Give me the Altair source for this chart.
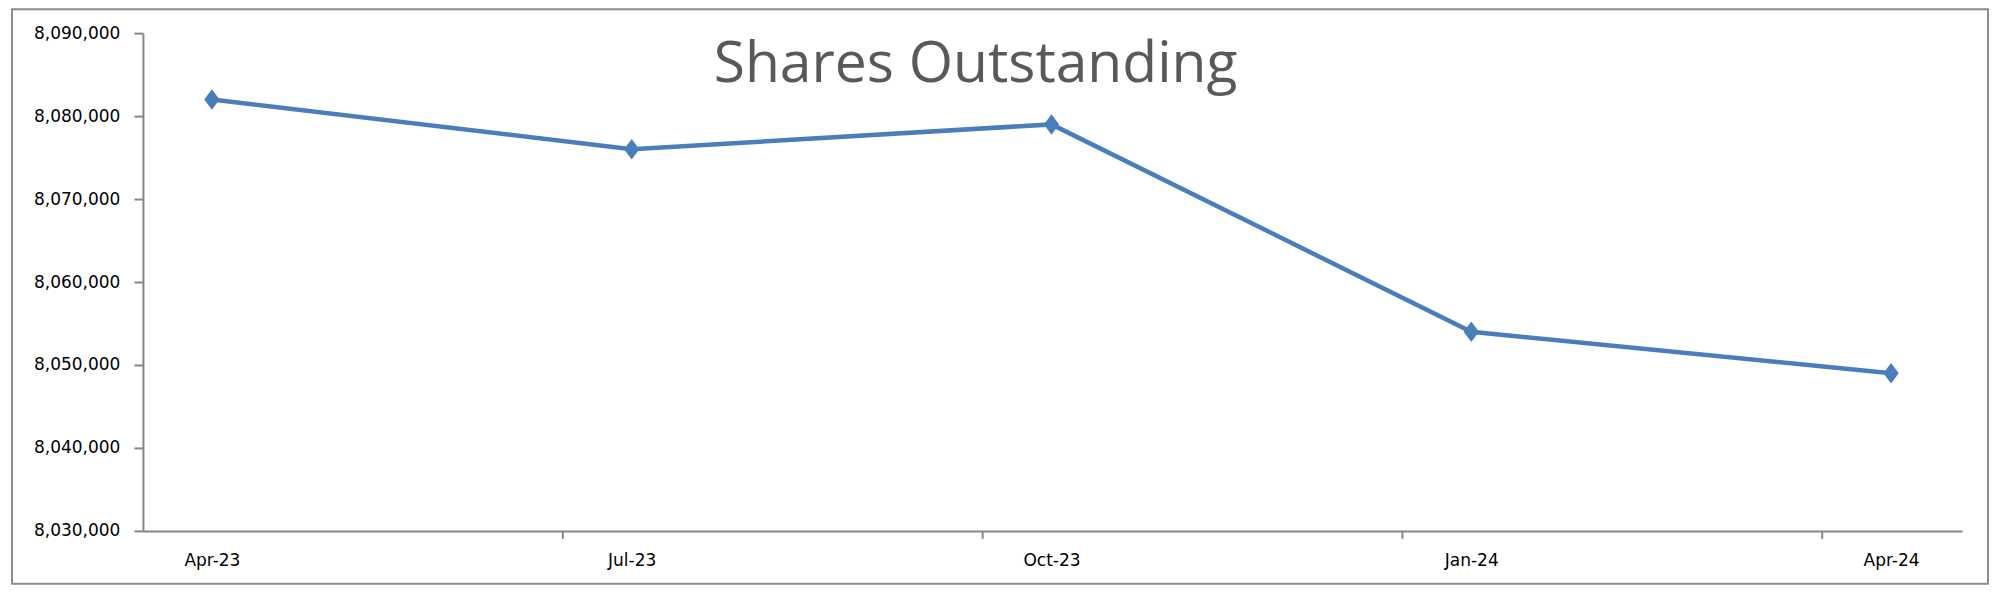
import json
import altair as alt
import pandas as pd

# ---- data ----
dates = ["Apr-23", "Jul-23", "Oct-23", "Jan-24", "Apr-24"]
shares = [8082000, 8076000, 8079000, 8054000, 8049000]
y_ticks = [8030000, 8040000, 8050000, 8060000, 8070000, 8080000, 8090000]
title_text = "Shares Outstanding"

df = pd.DataFrame({"idx": list(range(len(dates))), "date": dates, "shares": shares})
tick_df = pd.DataFrame({"t": [i + 0.836 for i in range(len(dates) - 1)]})

W, H = 1820, 498
BLUE = "#4A7EBB"
AX = "#868686"
LABEL_FONT = "DejaVu Sans"

xscale = alt.Scale(domain=[-0.1643, 4.169], nice=False, zero=False)
yscale = alt.Scale(domain=[y_ticks[0], y_ticks[-1]], nice=False, zero=False)

label_expr = json.dumps(dates) + "[datum.value]"

x_axis = alt.Axis(values=list(range(len(dates))), labelExpr=label_expr, ticks=False,
                  domainColor=AX, domainWidth=2, labelPadding=22, labelFontSize=17,
                  labelFont=LABEL_FONT, labelColor="#000000", grid=False, title=None)
y_axis = alt.Axis(values=y_ticks, labelExpr="format(datum.value, ',')", tickSize=9,
                  tickColor=AX, tickWidth=2,
                  domainColor=AX, domainWidth=2, labelPadding=14, labelFontSize=17,
                  labelFont=LABEL_FONT, labelColor="#000000", grid=False, title=None)

base = alt.Chart(df)
X = alt.X("idx:Q", scale=xscale, axis=x_axis)
Y = alt.Y("shares:Q", scale=yscale, axis=y_axis)

line = base.mark_line(color=BLUE, strokeWidth=4.5).encode(x=X, y=Y)
points = base.mark_point(
    shape="M-0.75,0L0,-1L0.75,0L0,1Z", size=420, filled=True, opacity=1, color=BLUE
).encode(x=X, y=Y)

xticks = alt.Chart(tick_df).mark_rule(color=AX, strokeWidth=2).encode(
    x=alt.X("t:Q", scale=xscale, axis=x_axis), y=alt.value(H), y2=alt.value(H + 8)
)

border = alt.Chart(pd.DataFrame({"a": [0]})).mark_rect(
    fill=None, stroke="#8c8c8c", strokeWidth=2
).encode(x=alt.value(-131), x2=alt.value(1846), y=alt.value(-24), y2=alt.value(551))

title = alt.Chart(pd.DataFrame({"t": [title_text]})).mark_text(
    font="Open Sans", fontSize=57, color="#595959", align="center", baseline="alphabetic"
).encode(text="t:N", x=alt.value(833), y=alt.value(49))

chart = alt.layer(border, xticks, line, points, title).properties(
    width=W, height=H,
    autosize=alt.AutoSizeParams(type="none"),
    padding={"left": 135, "top": 25, "right": 30, "bottom": 55},
    background="white",
).configure_view(stroke=None)

chart.save("out.html", embed_options={"renderer": "svg", "actions": False})
